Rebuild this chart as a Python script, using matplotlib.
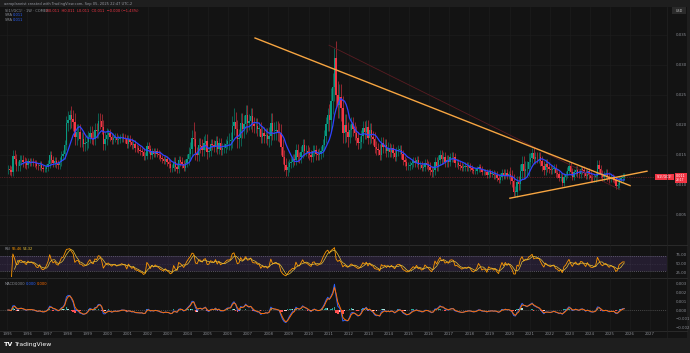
import numpy as np
import pandas as pd
import matplotlib
matplotlib.use("Agg")
import matplotlib.pyplot as plt
from matplotlib.lines import Line2D
from matplotlib.patches import Rectangle

# === DATA: monthly closes of SI1!/GC1! ===
close_1995_1999 = [
    0.0126, 0.0125, 0.0122, 0.0149, 0.0143, 0.0132, 0.0132, 0.0141, 0.0141, 0.0138, 0.0137, 0.0134,
    0.0140, 0.0138, 0.0139, 0.0137, 0.0136, 0.0132, 0.0131, 0.0134, 0.0128, 0.0126, 0.0127, 0.0130,
    0.0135, 0.0150, 0.0142, 0.0137, 0.0140, 0.0135, 0.0133, 0.0139, 0.0149, 0.0151, 0.0167, 0.0204,
    0.0208, 0.0216, 0.0210, 0.0205, 0.0180, 0.0188, 0.0188, 0.0176, 0.0176, 0.0169, 0.0170, 0.0172,
    0.0180, 0.0187, 0.0179, 0.0177, 0.0192, 0.0190, 0.0207, 0.0206, 0.0196, 0.0168, 0.0177, 0.0184,
]
close_2000_2004 = [
    0.0186, 0.0180, 0.0175, 0.0179, 0.0180, 0.0175, 0.0177, 0.0178, 0.0180, 0.0178, 0.0177, 0.0169,
    0.0177, 0.0172, 0.0167, 0.0169, 0.0162, 0.0161, 0.0159, 0.0156, 0.0155, 0.0148, 0.0149, 0.0165,
    0.0160, 0.0150, 0.0156, 0.0152, 0.0156, 0.0152, 0.0150, 0.0145, 0.0143, 0.0140, 0.0143, 0.0138,
    0.0135, 0.0128, 0.0129, 0.0139, 0.0130, 0.0126, 0.0142, 0.0139, 0.0135, 0.0129, 0.0136, 0.0144,
    0.0152, 0.0160, 0.0179, 0.0177, 0.0153, 0.0150, 0.0166, 0.0165, 0.0159, 0.0170, 0.0173, 0.0155,
]
close_2005_2009 = [
    0.0156, 0.0168, 0.0166, 0.0163, 0.0173, 0.0160, 0.0170, 0.0158, 0.0162, 0.0162, 0.0168, 0.0173,
    0.0173, 0.0175, 0.0199, 0.0205, 0.0193, 0.0176, 0.0179, 0.0204, 0.0194, 0.0201, 0.0216, 0.0204,
    0.0206, 0.0215, 0.0201, 0.0198, 0.0199, 0.0194, 0.0194, 0.0180, 0.0186, 0.0181, 0.0184, 0.0177,
    0.0182, 0.0204, 0.0190, 0.0190, 0.0191, 0.0189, 0.0187, 0.0163, 0.0146, 0.0134, 0.0125, 0.0130,
    0.0136, 0.0139, 0.0143, 0.0141, 0.0159, 0.0147, 0.0146, 0.0155, 0.0166, 0.0157, 0.0157, 0.0154,
]
close_2010_2014 = [
    0.0150, 0.0147, 0.0157, 0.0158, 0.0151, 0.0150, 0.0152, 0.0156, 0.0167, 0.0181, 0.0202, 0.0216,
    0.0209, 0.0240, 0.0263, 0.0312, 0.0250, 0.0233, 0.0246, 0.0228, 0.0187, 0.0200, 0.0188, 0.0180,
    0.0191, 0.0202, 0.0194, 0.0187, 0.0178, 0.0170, 0.0172, 0.0181, 0.0195, 0.0188, 0.0197, 0.0179,
    0.0192, 0.0180, 0.0177, 0.0163, 0.0160, 0.0159, 0.0150, 0.0170, 0.0163, 0.0166, 0.0156, 0.0162,
    0.0155, 0.0161, 0.0153, 0.0147, 0.0156, 0.0159, 0.0159, 0.0151, 0.0141, 0.0138, 0.0132, 0.0132,
]
close_2015_2019 = [
    0.0134, 0.0137, 0.0140, 0.0137, 0.0141, 0.0133, 0.0134, 0.0129, 0.0130, 0.0136, 0.0133, 0.0130,
    0.0125, 0.0121, 0.0125, 0.0138, 0.0132, 0.0141, 0.0150, 0.0143, 0.0146, 0.0139, 0.0141, 0.0139,
    0.0146, 0.0147, 0.0146, 0.0136, 0.0137, 0.0134, 0.0132, 0.0129, 0.0130, 0.0131, 0.0130, 0.0131,
    0.0129, 0.0125, 0.0123, 0.0124, 0.0126, 0.0130, 0.0127, 0.0121, 0.0122, 0.0121, 0.0116, 0.0121,
    0.0119, 0.0119, 0.0116, 0.0117, 0.0112, 0.0108, 0.0114, 0.0120, 0.0115, 0.0120, 0.0115, 0.0118,
]
close_2020_2025 = [
    0.0113, 0.0107, 0.0089, 0.0089, 0.0105, 0.0102, 0.0123, 0.0135, 0.0123, 0.0127, 0.0127, 0.0139,
    0.0145, 0.0154, 0.0143, 0.0147, 0.0146, 0.0147, 0.0140, 0.0132, 0.0125, 0.0135, 0.0130, 0.0127,
    0.0125, 0.0127, 0.0128, 0.0120, 0.0118, 0.0112, 0.0114, 0.0104, 0.0114, 0.0117, 0.0124, 0.0131,
    0.0122, 0.0114, 0.0121, 0.0125, 0.0119, 0.0118, 0.0126, 0.0125, 0.0120, 0.0115, 0.0123, 0.0116,
    0.0112, 0.0111, 0.0112, 0.0115, 0.0133, 0.0126, 0.0118, 0.0114, 0.0117, 0.0119, 0.0114, 0.0110,
    0.0113, 0.0111, 0.0108, 0.0098, 0.0100, 0.0109, 0.0111, 0.0114, 0.0114,
]
# typical wick size per year (fraction of price), 1995..2025
wick_by_year = [0.06, 0.04, 0.05, 0.07, 0.06, 0.04, 0.04, 0.04, 0.05, 0.07, 0.05, 0.08,
                0.06, 0.08, 0.06, 0.06, 0.09, 0.06, 0.06, 0.05, 0.05, 0.06, 0.05, 0.04,
                0.05, 0.10, 0.06, 0.05, 0.05, 0.06, 0.05]
# extreme weekly highs / lows that stick out of the candle cloud
spike_month = ["1998-02", "2004-04", "2006-04", "2011-04", "2020-03", "2021-02", "2025-04"]
spike_high = [0.0225, 0.0205, 0.0228, 0.0328, None, 0.0162, None]
spike_low = [None, None, None, None, 0.0081, None, 0.0094]

# drawn trend lines: (start year, start value, end year, end value)
res_line = [2007.34, 0.0345, 2026.00, 0.0099]
sup_line = [2020.02, 0.0078, 2026.84, 0.0123]
chan_line = [2011.02, 0.0333, 2025.50, 0.0092]

year_ticks = list(range(1995, 2028))
price_ticks = [0.035, 0.030, 0.025, 0.020, 0.015, 0.010, 0.005]
rsi_ticks = [75, 50, 25]
macd_ticks = [0.003, 0.002, 0.001, 0.0, -0.001, -0.002]

# === STYLE ===
FRAME = "#1e1e1e"
BG = "#131313"
GRID = "#1d1d1d"
TXT = "#8a8d94"
UP = "#089981"
DOWN = "#f23645"
ORANGE = "#f7a541"

W, H = 690, 353


def box(x0, y0, x1, y1):
    return [x0 / W, 1 - y1 / H, (x1 - x0) / W, (y1 - y0) / H]


def fx(x):
    return x / W


def fy(y):
    return 1 - y / H


close = np.array(close_1995_1999 + close_2000_2004 + close_2005_2009
                 + close_2010_2014 + close_2015_2019 + close_2020_2025)
n = len(close)
t = 1995 + (np.arange(n) + 0.5) / 12.0
years = 1995 + np.arange(n) // 12
opn = np.concatenate([[close[0]], close[:-1]])
wick = np.array([wick_by_year[y - 1995] for y in years])
high = np.maximum(opn, close) * (1 + wick)
low = np.minimum(opn, close) * (1 - wick)
for m, hi, lo in zip(spike_month, spike_high, spike_low):
    yy, mm = map(int, m.split("-"))
    i = (yy - 1995) * 12 + mm - 1
    if hi is not None:
        high[i] = hi
    if lo is not None:
        low[i] = lo

s = pd.Series(close)
sma = s.rolling(9).mean()
delta = s.diff()
gain = delta.clip(lower=0).ewm(alpha=1 / 8, adjust=False).mean()
loss = (-delta.clip(upper=0)).ewm(alpha=1 / 8, adjust=False).mean()
rsi = 100 - 100 / (1 + gain / loss)
rsi_ma = rsi.rolling(4).mean()
macd = s.ewm(span=3, adjust=False).mean() - s.ewm(span=6, adjust=False).mean()
signal = macd.ewm(span=2, adjust=False).mean()
hist = macd - signal

X0, X1 = 1995 - 7 / 20.1, 1995 + 660 / 20.1

fig = plt.figure(figsize=(6.9, 3.53), dpi=100, facecolor=FRAME)

bg = fig.add_axes(box(0, 7, 687, 338), zorder=0)
bg.set_facecolor(BG)
bg.set_xticks([])
bg.set_yticks([])
for sp in bg.spines.values():
    sp.set_visible(False)


def pane(y0, y1, ylo, yhi, ticks, fmt):
    ax = fig.add_axes(box(0, y0, 667, y1), zorder=2)
    ax.set_facecolor("none")
    ax.set_xlim(X0, X1)
    ax.set_ylim(ylo, yhi)
    for sp in ax.spines.values():
        sp.set_visible(False)
    ax.set_xticks(year_ticks)
    ax.set_yticks(ticks)
    ax.set_yticklabels([fmt(v) for v in ticks])
    ax.yaxis.tick_right()
    ax.tick_params(length=0, labelsize=2.8, colors=TXT, pad=6)
    ax.tick_params(axis="x", labelbottom=False)
    ax.grid(True, color=GRID, lw=0.5)
    ax.set_axisbelow(True)
    return ax


ax = pane(7, 244, 0.035 - 209 / 6000, 0.035 + 28 / 6000, price_ticks,
          lambda v: f"{v:.3f}")

# candles
cols = np.where(close >= opn, UP, DOWN)
ax.vlines(t, low, high, colors=cols, lw=0.4, zorder=3)
body_lo = np.minimum(opn, close)
body_h = np.maximum(np.abs(close - opn), 0.00004)
ax.bar(t, body_h, bottom=body_lo, width=0.07, color=cols, lw=0, zorder=3)
ax.plot(t, sma, color="#2f44ff", lw=0.9, zorder=4)

# trend lines
ax.plot(chan_line[0::2], chan_line[1::2], color="#5a1c22", lw=0.6, zorder=5)
ax.plot(res_line[0::2], res_line[1::2], color=ORANGE, lw=1.0, zorder=5)
ax.plot(sup_line[0::2], sup_line[1::2], color=ORANGE, lw=1.0, zorder=5)
ax.axhline(close[-1], color=DOWN, lw=0.5, ls=(0, (1, 1.5)), alpha=0.6, zorder=2)

# RSI pane
rx = pane(245, 277, 50 - 13.5 / 0.375, 50 + 18.5 / 0.375, rsi_ticks,
          lambda v: f"{v:.2f}")
rx.grid(False, axis="y")
rx.axhspan(30, 70, color="#7e57c2", alpha=0.16, lw=0, zorder=1)
rx.axhline(70, color="#6f6a80", lw=0.5, ls=(0, (1.5, 1.5)))
rx.axhline(30, color="#6f6a80", lw=0.5, ls=(0, (1.5, 1.5)))
rx.axhline(50, color="#4a4658", lw=0.4, ls=(0, (1, 2)))
rx.plot(t, rsi, color="#ff9800", lw=0.6, zorder=3)
rx.plot(t, rsi_ma, color="#e8c33a", lw=0.5, zorder=3)

# MACD pane
mx = pane(278, 330, 0.0 - 20 / 8.8 * 0.001, 32 / 8.8 * 0.001, macd_ticks,
          lambda v: f"{v:.3f}".replace("-", "\u2212"))
mx.grid(False, axis="y")
mx.axhline(0, color="#5a5a5a", lw=0.5, ls=(0, (1.5, 1.5)))
prev = np.concatenate([[0], hist.values[:-1]])
hcol = np.where(hist >= 0,
                np.where(hist >= prev, "#26a69a", "#b2dfdb"),
                np.where(hist <= prev, "#ff5252", "#ffcdd2"))
mx.bar(t, hist, width=0.07, color=hcol, lw=0, zorder=3)
mx.plot(t, macd, color="#2962ff", lw=0.7, zorder=4)
mx.plot(t, signal, color="#ff6d00", lw=0.7, zorder=4)
mx.tick_params(axis="x", labelbottom=True, pad=1.5)
mx.set_xticklabels([str(y) for y in year_ticks])

# pane separators
for yy in (244.5, 277.5, 330.5):
    fig.add_artist(Line2D([0, fx(687)], [fy(yy), fy(yy)], color="#2a2a2a", lw=0.7))
fig.add_artist(Line2D([fx(667), fx(667)], [fy(7), fy(338)], color="#222222", lw=0.5))

# texts
fig.text(fx(4), fy(3.5), "aeroplaneist created with TradingView.com, Sep 05, 2025 22:47 UTC-2",
         fontsize=2.6, color="#9598a1", va="center")
fig.text(fx(5), fy(11), "SI1!/GC1! \u00b7 1W \u00b7 COMEX", fontsize=2.6, color=TXT, va="center")
fig.text(fx(46), fy(11), "O0.011  H0.011  L0.011  C0.011  \u22120.000 (\u22121.43%)",
         fontsize=2.6, color=DOWN, va="center")
for yy in (15.5, 20):
    fig.text(fx(5), fy(yy), "SMA", fontsize=2.6, color=TXT, va="center")
    fig.text(fx(13), fy(yy), "0.011", fontsize=2.6, color="#2962ff", va="center")
fig.text(fx(5), fy(249), "RSI", fontsize=2.6, color=TXT, va="center")
fig.text(fx(12), fy(249), "55.46", fontsize=2.6, color="#ff9800", va="center")
fig.text(fx(23), fy(249), "54.32", fontsize=2.6, color="#e8c33a", va="center")
fig.text(fx(5), fy(284), "MACD", fontsize=2.6, color=TXT, va="center")
fig.text(fx(15), fy(284), "0.000", fontsize=2.6, color=TXT, va="center")
fig.text(fx(26), fy(284), "0.000", fontsize=2.6, color="#2962ff", va="center")
fig.text(fx(37), fy(284), "0.000", fontsize=2.6, color="#ff6d00", va="center")

# currency box top right
fig.add_artist(Rectangle((fx(672), fy(14)), fx(14), 7 / H, color="#2a2a2a", lw=0))
fig.text(fx(679), fy(10.5), "USD", fontsize=2.4, color="#c0c0c0", va="center", ha="center")

# last price labels
fig.add_artist(Rectangle((fx(655), fy(179.5)), fx(19), 5.5 / H, color=DOWN, lw=0))
fig.text(fx(664.5), fy(176.8), "SI1!/GC1!", fontsize=2.3, color="white", va="center", ha="center")
fig.add_artist(Rectangle((fx(674.5), fy(182.5)), fx(12), 10 / H, color=DOWN, lw=0))
fig.text(fx(680.5), fy(175.5), f"{close[-1]:.3f}", fontsize=2.4, color="white", va="center", ha="center")
fig.text(fx(680.5), fy(180), "23:17", fontsize=2.2, color="white", va="center", ha="center")

# TradingView logo
fig.text(fx(4), fy(344.5), "TV", fontsize=4.6, color="white", va="center", fontweight="bold")
fig.text(fx(15), fy(344.5), "TradingView", fontsize=4.4, color="white", va="center")

fig.savefig("out.png", dpi=100, facecolor=FRAME)
